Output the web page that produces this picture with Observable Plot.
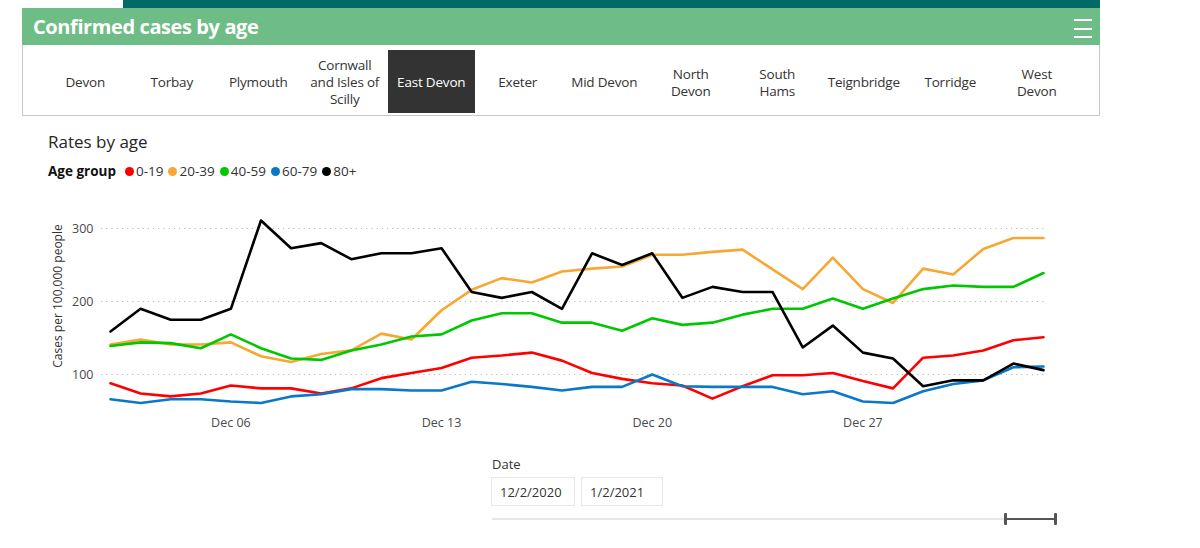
<!DOCTYPE html>
<html><head><meta charset="utf-8">
<script src="https://cdn.jsdelivr.net/npm/d3@7"></script>
<script src="https://cdn.jsdelivr.net/npm/@observablehq/plot@0.6"></script>
<style>
body{margin:0;background:#fff;font-family:"Open Sans","Noto Sans",sans-serif;}
#root{position:relative;width:1200px;height:548px;overflow:hidden;}
.abs{position:absolute;}
.tab{position:absolute;top:50px;height:63px;width:86.5px;display:flex;align-items:center;justify-content:center;text-align:center;font-size:13.5px;line-height:17px;color:#333;letter-spacing:-0.2px;white-space:pre-line;padding-top:2px;box-sizing:border-box;}
.tab.sel{background:#333;color:#fff;}
.box{position:absolute;top:477px;height:29px;border:1px solid #e8e8e8;box-sizing:border-box;font-size:13px;color:#333;display:flex;align-items:center;padding-left:8px;}
</style></head>
<body><div id="root"></div>
<script>
const tabs = ["Devon","Torbay","Plymouth","Cornwall\nand Isles of\nScilly","East Devon","Exeter","Mid Devon","North\nDevon","South\nHams","Teignbridge","Torridge","West\nDevon"];
const selectedTab = "East Devon";
const ageGroups = ["0-19","20-39","40-59","60-79","80+"];
const colors = ["#ff0000","#f7a733","#00c800","#0a78c8","#000000"];
const dates = ["2020-12-02","2020-12-03","2020-12-04","2020-12-05","2020-12-06","2020-12-07","2020-12-08","2020-12-09","2020-12-10","2020-12-11","2020-12-12","2020-12-13","2020-12-14","2020-12-15","2020-12-16","2020-12-17","2020-12-18","2020-12-19","2020-12-20","2020-12-21","2020-12-22","2020-12-23","2020-12-24","2020-12-25","2020-12-26","2020-12-27","2020-12-28","2020-12-29","2020-12-30","2020-12-31","2021-01-01","2021-01-02"];
const age0_19  = [88,74,70,74,85,81,81,74,81,95,102,109,123,126,130,119,102,94,88,85,67,84,99,99,102,91,81,123,126,133,147,151];
const age20_39 = [141,148,141,141,144,125,117,128,133,156,148,188,216,232,226,241,245,248,264,264,268,271,244,217,260,217,198,245,237,272,287,287];
const age40_59 = [139,144,143,136,155,136,122,120,133,141,152,155,174,184,184,171,171,160,177,168,171,182,190,190,204,190,204,217,222,220,220,239];
const age60_79 = [66,61,66,66,63,61,70,73,80,80,78,78,90,87,83,78,83,83,100,84,83,83,83,73,77,63,61,77,87,92,110,111];
const age80    = [159,190,175,175,190,311,273,280,258,266,266,273,213,205,213,190,266,250,266,205,220,213,213,137,167,130,122,84,92,92,115,106];
const yTicks = [100,200,300];
const xTicks = ["2020-12-06","2020-12-13","2020-12-20","2020-12-27"];
const dateFrom = "12/2/2020", dateTo = "1/2/2021";

const series = [age0_19, age20_39, age40_59, age60_79, age80];
const rows = [];
series.forEach((vals, i) => vals.forEach((v, j) => rows.push({group: ageGroups[i], date: new Date(dates[j] + "T00:00:00Z"), value: v})));

const root = document.getElementById("root");
root.innerHTML = `
<div class="abs" style="left:123px;top:0;width:977px;height:9px;background:#006a66"></div>
<div class="abs" style="left:22px;top:8px;width:1078px;height:37px;background:#6fbd86"></div>
<div class="abs" style="left:33px;top:13px;font-size:20px;font-weight:700;color:#fff;letter-spacing:-0.4px">Confirmed cases by age</div>
<div class="abs" style="left:1074px;top:19px;width:18px;height:2px;background:#fff"></div>
<div class="abs" style="left:1074px;top:28px;width:18px;height:2px;background:#fff"></div>
<div class="abs" style="left:1074px;top:36px;width:18px;height:2px;background:#fff"></div>
<div class="abs" style="left:22px;top:45px;width:1078px;height:71px;border:1px solid #c8c8c8;border-top:none;box-sizing:border-box"></div>
<div class="abs" style="left:48px;top:130px;font-size:17px;color:#252525">Rates by age</div>
<div id="legend" class="abs" style="left:48px;top:162px;font-size:13.5px;color:#333;display:flex;align-items:center;white-space:nowrap"></div>
<div class="abs" style="left:57px;top:296px;transform:translate(-50%,-50%) rotate(-90deg);transform-origin:center;font-size:12px;color:#333;white-space:nowrap">Cases per 100,000 people</div>
<div class="abs" style="left:492px;top:455px;font-size:13px;color:#333">Date</div>
<div class="box" style="left:491px;width:84px">${dateFrom}</div>
<div class="box" style="left:581px;width:82px">${dateTo}</div>
<div class="abs" style="left:492px;top:518px;width:563px;height:2px;background:#e6e6e6"></div>
<div class="abs" style="left:1005px;top:518px;width:50px;height:2px;background:#555"></div>
<div class="abs" style="left:1004px;top:513px;width:3px;height:12px;background:#555;border-radius:1px"></div>
<div class="abs" style="left:1054px;top:513px;width:3px;height:12px;background:#555;border-radius:1px"></div>
`;
tabs.forEach((t, i) => {
  const d = document.createElement("div");
  d.className = "tab" + (t === selectedTab ? " sel" : "");
  d.style.left = (42 + i * 86.5) + "px";
  d.textContent = t;
  root.appendChild(d);
});
const leg = document.getElementById("legend");
leg.innerHTML = `<span style="font-weight:700;color:#111;margin-right:9px">Age group</span>` +
  ageGroups.map((g, i) => `<span style="display:inline-block;width:9px;height:9px;border-radius:50%;background:${colors[i]};margin-right:2px"></span><span style="margin-right:5px">${g}</span>`).join("");

const chart = Plot.plot({
  width: 1200, height: 245,
  marginLeft: 101, marginRight: 153, marginTop: 2, marginBottom: 35,
  style: {fontFamily: '"Open Sans","Noto Sans",sans-serif', fontSize: "12.5px", color: "#4a4a4a", background: "transparent"},
  x: {type: "utc", domain: [new Date(dates[0] + "T00:00:00Z"), new Date(dates[dates.length - 1] + "T00:00:00Z")], range: [110, 1043]},
  y: {domain: [100, 300], range: [179, 33]},
  color: {domain: ageGroups, range: colors},
  marks: [
    Plot.ruleY(yTicks, {stroke: "#b8b8b8", strokeDasharray: "1.2,4", strokeWidth: 1}),
    Plot.axisY({ticks: yTicks, tickSize: 0, tickPadding: 8, label: null, fontSize: 12.5}),
    Plot.axisX({ticks: xTicks.map(s => new Date(s + "T00:00:00Z")), tickSize: 0, tickPadding: 13, label: null, tickFormat: d3.utcFormat("%b %d"), fontSize: 12.5}),
    Plot.line(rows, {x: "date", y: "value", z: "group", stroke: "group", strokeWidth: 2.6, strokeLinejoin: "round", curve: "linear"})
  ]
});
chart.style.position = "absolute";
chart.style.left = "0px";
chart.style.top = "195px";
chart.style.overflow = "visible";
root.appendChild(chart);
</script></body></html>
